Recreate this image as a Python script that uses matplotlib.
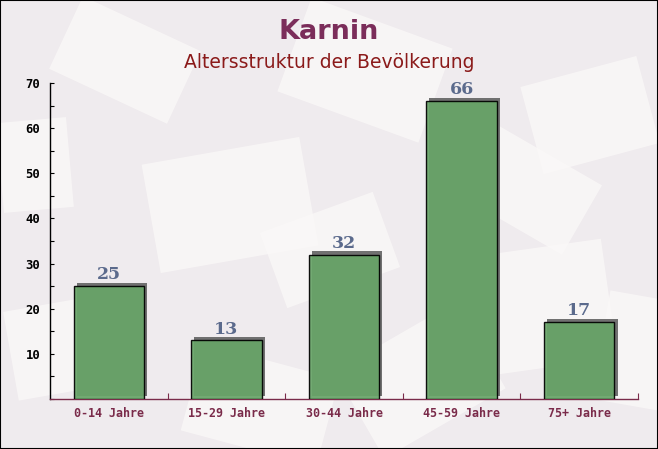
import matplotlib
matplotlib.use("Agg")
import matplotlib.pyplot as plt
import matplotlib.patheffects as pe
from matplotlib.patches import Rectangle
from matplotlib.transforms import Affine2D
from matplotlib.ticker import MultipleLocator, FixedLocator

# data
categories = ["0-14 Jahre", "15-29 Jahre", "30-44 Jahre", "45-59 Jahre", "75+ Jahre"]
values = [25, 13, 32, 66, 17]
title = "Karnin"
subtitle = "Altersstruktur der Bevölkerung"

bg = "#efebee"
bar_color = "#68a468"
label_color = "#5b6a8c"
maroon = "#7a2b4a"

fig = plt.figure(figsize=(6.58, 4.49), dpi=100, facecolor=bg)

# decorative envelope-like background (pixels: x, y, w, h, angle)
envelopes = [(10, 300, 130, 90, 10), (150, 150, 160, 110, 10), (290, 20, 150, 100, -20),
             (440, 250, 170, 120, 8), (530, 70, 120, 90, 15), (60, 20, 130, 80, -25),
             (350, 330, 140, 100, 30), (600, 300, 120, 110, -10), (190, 360, 140, 90, -15),
             (0, 120, 70, 90, 5), (470, 150, 120, 80, -30), (270, 210, 120, 80, 20)]
for ex, ey, ew, eh, ang in envelopes:
    r = Rectangle((ex, 449 - ey - eh), ew, eh, facecolor="#fbf9f8", edgecolor="none",
                  alpha=0.75, zorder=-5)
    r.set_transform(Affine2D().rotate_deg_around(ex + ew / 2, 449 - ey - eh / 2, ang)
                    + Affine2D().scale(1 / 658, 1 / 449) + fig.transFigure)
    fig.patches.append(r)

ax = fig.add_axes([50 / 658, 50 / 449, 588 / 658, 316 / 449])
ax.set_facecolor("none")

x = [i + 0.5 for i in range(len(categories))]
shadow = [pe.SimplePatchShadow(offset=(2.2, 2.2), shadow_rgbFace="#5a5a5a", alpha=0.85),
          pe.Normal()]
bars = ax.bar(x, values, width=0.6, color=bar_color, edgecolor="black",
              linewidth=1.0, alpha=0.93, zorder=3)
for b in bars:
    b.set_path_effects(shadow)

for xi, v in zip(x, values):
    ax.annotate(str(v), (xi, v), xytext=(0, 2), textcoords="offset points",
                ha="center", va="bottom", fontsize=12.5, fontweight="bold",
                family="DejaVu Serif", color=label_color, zorder=4)

ax.set_xlim(0, 5)
ax.set_ylim(0, 70)

ax.spines["top"].set_visible(False)
ax.spines["right"].set_visible(False)
ax.spines["left"].set_color("black")
ax.spines["bottom"].set_color(maroon)
ax.spines["left"].set_linewidth(1.0)
ax.spines["bottom"].set_linewidth(1.0)

ax.yaxis.set_major_locator(FixedLocator([10, 20, 30, 40, 50, 60, 70]))
ax.yaxis.set_minor_locator(MultipleLocator(5))
ax.tick_params(axis="y", which="both", direction="in", length=3, width=0.8,
               color="black", pad=7)
ax.tick_params(axis="y", labelsize=8.8)
for lab in ax.get_yticklabels():
    lab.set_family("DejaVu Sans Mono")
    lab.set_fontweight("bold")

ax.set_xticks(x)
ax.set_xticklabels(categories, family="DejaVu Sans Mono", fontweight="bold",
                   fontsize=8.4, color=maroon)
ax.xaxis.set_minor_locator(FixedLocator([1, 2, 3, 4, 5]))
ax.tick_params(axis="x", which="major", length=0, pad=6)
ax.tick_params(axis="x", which="minor", direction="in", length=4, width=0.8,
               color=maroon)

fig.text(0.5, 1 - 32 / 449, title, ha="center", va="center", fontsize=19.5,
         fontweight="bold", color="#7b2d5a")
fig.text(0.5, 1 - 62 / 449, subtitle, ha="center", va="center", fontsize=13.5,
         color="#8b1a1a")

fig.patches.append(Rectangle((0, 0), 1, 1, transform=fig.transFigure, fill=False,
                             edgecolor="black", linewidth=1.5, zorder=10))

fig.savefig("out.png", dpi=100, facecolor=bg)
